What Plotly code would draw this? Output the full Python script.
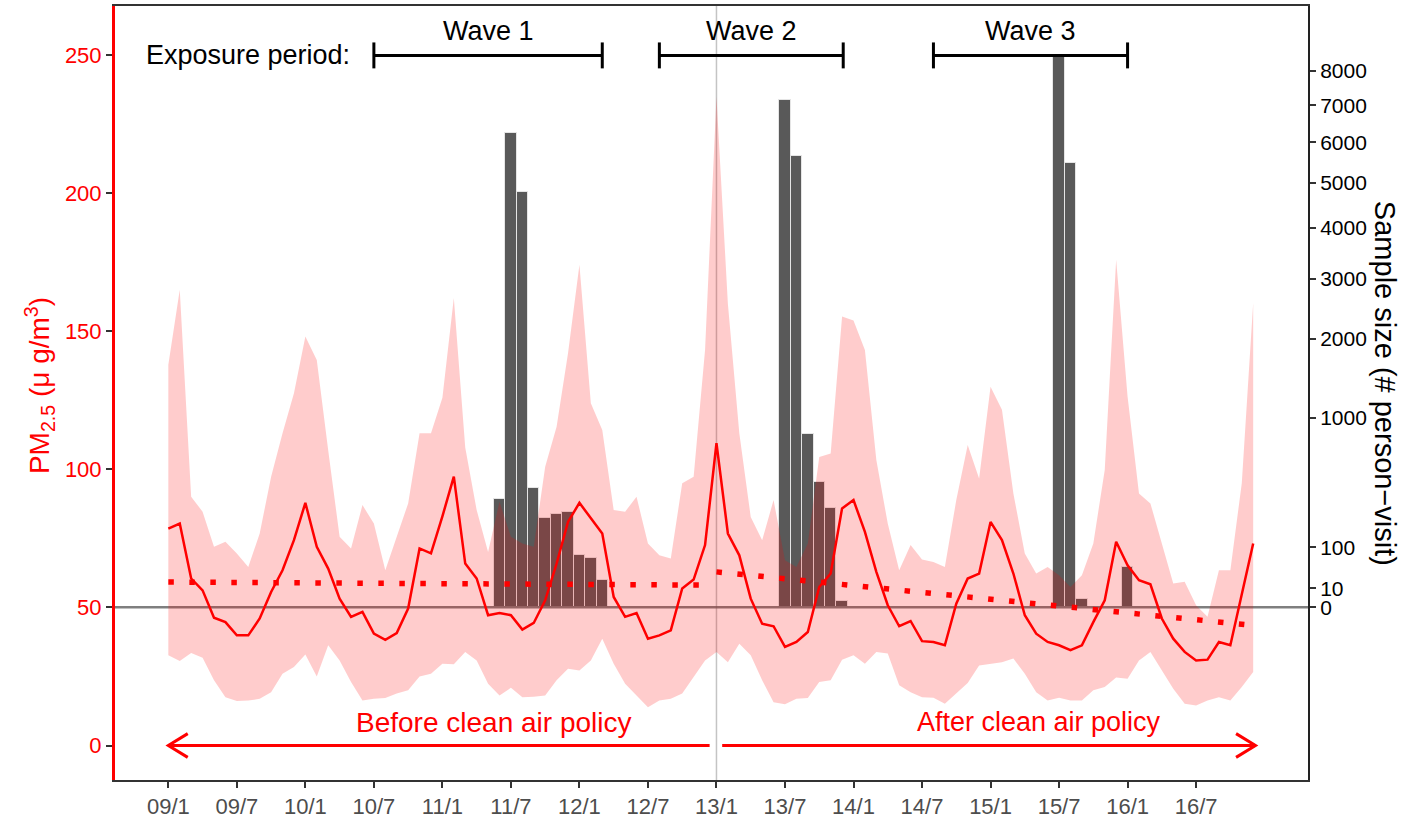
import numpy as np
import plotly.graph_objects as go

# ---------------- data ----------------
months = list(range(96))  # 0 = Jan 2009 ... 95 = Dec 2016
tick_months = [0, 6, 12, 18, 24, 30, 36, 42, 48, 54, 60, 66, 72, 78, 84, 90]
tick_labels = ["09/1", "09/7", "10/1", "10/7", "11/1", "11/7", "12/1", "12/7",
               "13/1", "13/7", "14/1", "14/7", "15/1", "15/7", "16/1", "16/7"]

pm_mean = [78.6, 80.4, 60.5, 56.2, 46.3, 44.7, 39.9, 39.9, 46.0, 55.6, 63.5, 74.4,
           87.9, 72.0, 64.1, 53.2, 46.6, 48.4, 40.5, 38.3, 40.7, 49.6, 71.4, 69.6,
           83.0, 97.4, 65.9, 60.5, 47.2, 48.0, 47.2, 42.0, 44.4, 52.6, 65.9, 81.0,
           87.9, 82.3, 76.8, 53.8, 46.6, 48.0, 38.7, 39.9, 41.7, 56.9, 60.1, 72.6,
           109.5, 76.8, 68.9, 53.2, 44.1, 43.2, 35.7, 37.5, 41.1, 57.4, 62.3, 85.9,
           88.9, 77.4, 62.9, 50.8, 43.2, 45.1, 37.8, 37.5, 36.3, 51.4, 60.5, 62.3,
           81.0, 74.4, 62.3, 47.2, 40.5, 37.5, 36.3, 34.5, 36.3, 44.7, 52.6, 73.8,
           65.3, 59.9, 58.4, 46.0, 38.7, 33.9, 30.8, 31.1, 37.5, 36.3, 55.0, 73.2]

pm_upper = [137.9, 165.1, 90.1, 84.7, 72.0, 73.8, 69.6, 64.7, 76.8, 97.4, 113.1, 127.6,
            148.2, 139.7, 107.0, 75.6, 71.4, 87.1, 80.4, 63.5, 75.6, 87.7, 113.1, 113.1,
            126.0, 162.1, 108.0, 85.3, 70.1, 88.3, 75.6, 73.2, 72.0, 101.0, 115.5, 142.1,
            174.2, 124.0, 114.3, 85.3, 84.7, 90.1, 73.2, 68.9, 67.7, 95.0, 97.4, 143.3,
            235.0, 160.0, 113.1, 82.8, 74.4, 88.9, 67.1, 64.7, 73.2, 104.5, 105.8, 155.4,
            154.0, 143.3, 103.4, 80.4, 63.5, 72.6, 67.4, 66.5, 64.7, 88.9, 108.9, 96.7,
            130.0, 121.6, 91.3, 69.6, 62.3, 64.7, 61.7, 57.4, 61.7, 73.2, 99.8, 176.0,
            126.4, 91.3, 87.7, 73.2, 58.7, 59.3, 50.8, 46.6, 63.5, 63.5, 95.0, 160.3]

pm_lower = [32.7, 30.6, 33.5, 31.8, 23.6, 17.5, 16.1, 16.3, 16.9, 19.3, 26.0, 28.4,
            33.0, 25.0, 36.3, 30.8, 23.0, 16.3, 16.9, 17.2, 18.8, 20.0, 25.0, 26.0,
            29.6, 29.4, 33.9, 30.8, 22.4, 18.1, 20.9, 17.5, 17.7, 18.1, 23.6, 27.8,
            27.2, 30.8, 38.7, 29.6, 22.4, 18.1, 13.9, 16.3, 16.9, 18.8, 24.8, 30.8,
            33.9, 30.2, 36.9, 32.7, 23.6, 15.7, 14.9, 16.9, 17.2, 23.0, 23.6, 31.1,
            32.7, 29.6, 33.9, 33.3, 21.8, 19.3, 17.5, 17.3, 15.1, 19.0, 22.6, 29.0,
            29.6, 30.2, 31.5, 26.0, 19.3, 16.3, 17.3, 16.3, 16.3, 20.0, 21.2, 24.6,
            24.2, 30.8, 33.9, 27.2, 20.6, 15.1, 14.5, 16.3, 17.5, 16.3, 21.2, 26.6]

sample_months = [29, 30, 31, 32, 33, 34, 35, 36, 37, 38,
                 54, 55, 56, 57, 58, 59,
                 78, 79, 80, 84]
sample_size = [324, 6240, 4790, 392, 221, 241, 251, 76, 68, 20,
               7135, 5650, 834, 434, 275, 1,
               8430, 5470, 2, 46]

trend_before_months = [0, 47]
trend_before = [59.2, 58.1]
trend_after_months = [48, 95]
trend_after = [62.9, 43.5]

pm_ticks = [0, 50, 100, 150, 200, 250]
size_ticks = [0, 10, 100, 1000, 2000, 3000, 4000, 5000, 6000, 7000, 8000]

wave_names = ["Wave 1", "Wave 2", "Wave 3"]
wave_start = [18, 43, 67]
wave_end = [38, 59.1, 84]
wave_level = 250

policy_month = 48
before_span = [0, 47.4]
after_span = [48.5, 95.2]

# ---------------- styles ----------------
FONT = "Liberation Sans, Arial, sans-serif"
RED = "#FF0000"

fig = go.Figure()

# sample size bars (sqrt scale, right axis = base subplot)
fig.add_trace(go.Bar(
    x=sample_months, y=np.sqrt(sample_size), width=1.0,
    marker=dict(color="#595959", line=dict(color="rgba(235,235,235,0.9)", width=1)),
    yaxis="y", showlegend=False, hoverinfo="skip"))

# zero line of sample-size axis (PM = 50)
fig.add_trace(go.Scatter(
    x=[-4.67, 99.8], y=[0, 0], mode="lines", yaxis="y",
    line=dict(color="rgba(95,95,95,0.8)", width=2.5), showlegend=False, hoverinfo="skip"))

# ribbon
fig.add_trace(go.Scatter(x=months, y=pm_lower, mode="lines", yaxis="y2",
                         line=dict(width=0, color="rgba(0,0,0,0)"), showlegend=False, hoverinfo="skip"))
fig.add_trace(go.Scatter(x=months, y=pm_upper, mode="lines", yaxis="y2", fill="tonexty",
                         fillcolor="rgba(255,0,0,0.2)", line=dict(width=0, color="rgba(0,0,0,0)"),
                         showlegend=False, hoverinfo="skip"))
# mean line
fig.add_trace(go.Scatter(x=months, y=pm_mean, mode="lines", yaxis="y2",
                         line=dict(color=RED, width=2.5), showlegend=False))
# trend lines
for tx, ty in [(trend_before_months, trend_before), (trend_after_months, trend_after)]:
    fig.add_trace(go.Scatter(x=tx, y=ty, mode="lines", yaxis="y2",
                             line=dict(color=RED, width=5.5, dash="5.5px,15.5px"),
                             showlegend=False, hoverinfo="skip"))

# wave brackets
cap = 4.7
bx, by = [], []
for s, e in zip(wave_start, wave_end):
    bx += [s, e, None, s, s, None, e, e, None]
    by += [wave_level, wave_level, None, wave_level - cap, wave_level + cap, None,
           wave_level - cap, wave_level + cap, None]
fig.add_trace(go.Scatter(x=bx, y=by, mode="lines", yaxis="y2",
                         line=dict(color="black", width=3), showlegend=False, hoverinfo="skip"))

# before / after arrows
adx, ady = 1.7, 4.3
ax_ = [before_span[1], before_span[0], None,
       before_span[0] + adx, before_span[0], before_span[0] + adx, None,
       after_span[0], after_span[1], None,
       after_span[1] - adx, after_span[1], after_span[1] - adx]
ay_ = [0, 0, None, ady, 0, -ady, None, 0, 0, None, ady, 0, -ady]
fig.add_trace(go.Scatter(x=ax_, y=ay_, mode="lines", yaxis="y2",
                         line=dict(color=RED, width=3), showlegend=False, hoverinfo="skip"))

annotations = []
annotations.append(dict(x=16.1, y=wave_level, xref="x", yref="y2", text="Exposure period:",
                        showarrow=False, xanchor="right", yanchor="middle",
                        font=dict(family=FONT, size=27, color="black")))
for name, s, e in zip(wave_names, wave_start, wave_end):
    annotations.append(dict(x=(s + e) / 2, y=259, xref="x", yref="y2", text=name,
                            showarrow=False, xanchor="center", yanchor="middle",
                            font=dict(family=FONT, size=27, color="black")))
annotations.append(dict(x=28.5, y=8.5, xref="x", yref="y2", text="Before clean air policy",
                        showarrow=False, xanchor="center", yanchor="middle",
                        font=dict(family=FONT, size=28, color=RED)))
annotations.append(dict(x=76.2, y=8.5, xref="x", yref="y2", text="After clean air policy",
                        showarrow=False, xanchor="center", yanchor="middle",
                        font=dict(family=FONT, size=27, color=RED)))
annotations.append(dict(x=-0.063, y=0.51, xref="paper", yref="paper",
                        text="PM<sub>2.5</sub> (μ g/m<sup>3</sup>)", textangle=-90,
                        showarrow=False, xanchor="center", yanchor="middle",
                        font=dict(family=FONT, size=28, color=RED)))
annotations.append(dict(x=1.0646, y=0.513, xref="paper", yref="paper",
                        text="Sample size (# person\u2212visit)", textangle=90,
                        showarrow=False, xanchor="center", yanchor="middle",
                        font=dict(family=FONT, size=29, color="black")))

shapes = [dict(type="line", xref="x", yref="paper", x0=policy_month, x1=policy_month,
               y0=0, y1=1, layer="below", line=dict(color="#c4c4c4", width=1.5))]

fig.update_layout(
    width=1403, height=819,
    margin=dict(l=115, r=95, t=6, b=39, autoexpand=False),
    paper_bgcolor="white", plot_bgcolor="white",
    font=dict(family=FONT),
    bargap=0,
    annotations=annotations, shapes=shapes,
    xaxis=dict(range=[-4.67, 99.8], tickvals=tick_months, ticktext=tick_labels,
               ticks="outside", ticklen=6, tickwidth=2, tickcolor="#333333",
               tickfont=dict(family=FONT, size=22, color="#4d4d4d"),
               showline=True, linecolor="#333333", linewidth=2, mirror=True,
               showgrid=False, zeroline=False, automargin=False),
    yaxis=dict(side="right", range=[-28.78, 100.2],
               tickvals=list(np.sqrt(size_ticks)), ticktext=[str(v) for v in size_ticks],
               ticks="outside", ticklen=6, tickwidth=2, tickcolor="#333333",
               tickfont=dict(family=FONT, size=21, color="black"),
               showline=True, linecolor="#222222", linewidth=2,
               showgrid=False, zeroline=False, automargin=False),
    yaxis2=dict(side="left", overlaying="y", range=[-12.5, 267.9],
                tickvals=pm_ticks, ticks="outside", ticklen=6, tickwidth=2, tickcolor="#333333",
                tickfont=dict(family=FONT, size=22, color=RED),
                showline=True, linecolor=RED, linewidth=3,
                showgrid=False, zeroline=False, automargin=False),
)

fig.write_html("out.html", config={"displayModeBar": False},
               post_script="document.body.style.margin='0px';document.body.style.padding='0px';")
